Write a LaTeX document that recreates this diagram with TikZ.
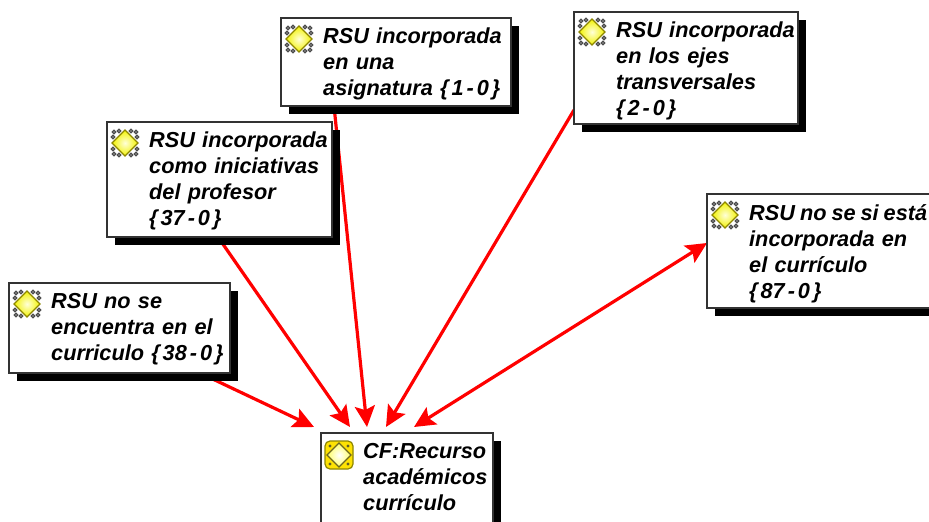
\documentclass[tikz,border=0pt]{standalone}
\usepackage{fontspec}
\setmainfont[WordSpace=1.2]{Liberation Sans}
\usepackage{tikz}
\usetikzlibrary{arrows.meta,backgrounds,shadows}
\newcommand{\rsucount}[2]{\{\kern3pt#1\kern3pt-\kern3pt#2\kern3pt\}}
\tikzset{
rsubox/.style={draw=black!80,line width=1.8pt,fill=white,anchor=north west,inner sep=0pt,outer sep=0pt,
  drop shadow={shadow xshift=7.5pt,shadow yshift=-7.5pt,fill=black,opacity=1}},
rsutext/.style={anchor=north west,inner sep=0pt,align=left,xshift=42pt,yshift=-10pt,
  font=\fontsize{21.7}{26}\selectfont\bfseries\itshape},
redtip/.tip={Stealth[length=21pt,width=20pt,inset=4pt]},
link/.style={draw=red,line width=3.2pt,-redtip},
biglink/.style={draw=red,line width=3.2pt,redtip-redtip},
rsuicon/.pic={
  \foreach \sx in {-1,1} \foreach \sy in {-1,1} {
    \draw[gray!60!black,fill=gray!35,line width=1.2pt] (\sx*12,\sy*6) circle (1.8);
    \draw[gray!60!black,fill=gray!35,line width=1.2pt] (\sx*6,\sy*12) circle (1.8);
    \draw[gray!60!black,fill=gray!35,line width=1.2pt] (\sx*11,\sy*11) circle (1.8);
  }
  \shade[inner color=yellow!15,outer color=yellow!95!black,draw=olive,line width=1.2pt] (-13,0) -- (0,-13) -- (13,0) -- (0,13) -- cycle;
},
cficon/.pic={
  \fill[yellow!85!orange,draw=olive,line width=1.2pt,rounded corners=5pt] (-14,-14) rectangle (14,14);
  \foreach \sx in {-1,1} \foreach \sy in {-1,1} {
    \fill[olive!60!black] (\sx*9,\sy*9) circle (1.6);
  }
  \shade[inner color=white,outer color=yellow!60,draw=olive!70!black,line width=1.2pt] (-12,0) -- (0,-12) -- (12,0) -- (0,12) -- cycle;
}
}

\begin{document}
\begin{tikzpicture}[x=1pt,y=-1pt]
\path[use as bounding box,clip] (0,0) rectangle (929,522);

\node[rsubox,minimum width=230pt,minimum height=88pt] (rsuAsignatura) at (281,18) {};
\node[rsutext] (txtAsignatura) at (rsuAsignatura.north west) {RSU incorporada\\en una\\asignatura \rsucount{1}{0}};
\pic at ([xshift=18pt,yshift=-21pt]rsuAsignatura.north west) {rsuicon};

\node[rsubox,minimum width=224pt,minimum height=112pt] (rsuEjes) at (574,12) {};
\node[rsutext] (txtEjes) at (rsuEjes.north west) {RSU incorporada\\en los ejes\\transversales\\\rsucount{2}{0}};
\pic at ([xshift=18pt,yshift=-20pt]rsuEjes.north west) {rsuicon};

\node[rsubox,minimum width=225pt,minimum height=115pt] (rsuProfesor) at (107,122) {};
\node[rsutext] (txtProfesor) at (rsuProfesor.north west) {RSU incorporada\\como iniciativas\\del profesor\\\rsucount{37}{0}};
\pic at ([xshift=18pt,yshift=-21pt]rsuProfesor.north west) {rsuicon};

\node[rsubox,minimum width=221pt,minimum height=90pt] (rsuEncuentra) at (9,283) {};
\node[rsutext] (txtEncuentra) at (rsuEncuentra.north west) {RSU no se\\encuentra en el\\curriculo \rsucount{38}{0}};
\pic at ([xshift=18pt,yshift=-21pt]rsuEncuentra.north west) {rsuicon};

\node[rsubox,minimum width=240pt,minimum height=114pt] (rsuNoSe) at (707,194) {};
\node[rsutext] (txtNoSe) at (rsuNoSe.north west) {{\spaceskip=5pt RSU no se si está}\\incorporada en\\el currículo\\\rsucount{87}{0}};
\pic at ([xshift=18pt,yshift=-21pt]rsuNoSe.north west) {rsuicon};

\node[rsubox,minimum width=172pt,minimum height=100pt] (cfRecurso) at (321,433) {};
\node[rsutext] (txtRecurso) at (cfRecurso.north west) {CF:Recurso\\académicos\\currículo};
\pic at ([xshift=18pt,yshift=-22pt]cfRecurso.north west) {cficon};

\begin{scope}[on background layer]
\draw[link] ([xshift=191pt]rsuEncuentra.south west) -- ([xshift=-7pt,yshift=6pt]cfRecurso.north west);
\draw[link] ([xshift=111pt]rsuProfesor.south west) -- ([xshift=29pt,yshift=6pt]cfRecurso.north west);
\draw[link] ([xshift=53pt]rsuAsignatura.south west) -- ([xshift=46pt,yshift=6pt]cfRecurso.north west);
\draw[link] ([yshift=-98pt]rsuEjes.north west) -- ([xshift=65pt,yshift=6pt]cfRecurso.north west);
\draw[biglink] ([yshift=-49pt]rsuNoSe.north west) -- ([xshift=93pt,yshift=6pt]cfRecurso.north west);
\end{scope}
\end{tikzpicture}
\end{document}
